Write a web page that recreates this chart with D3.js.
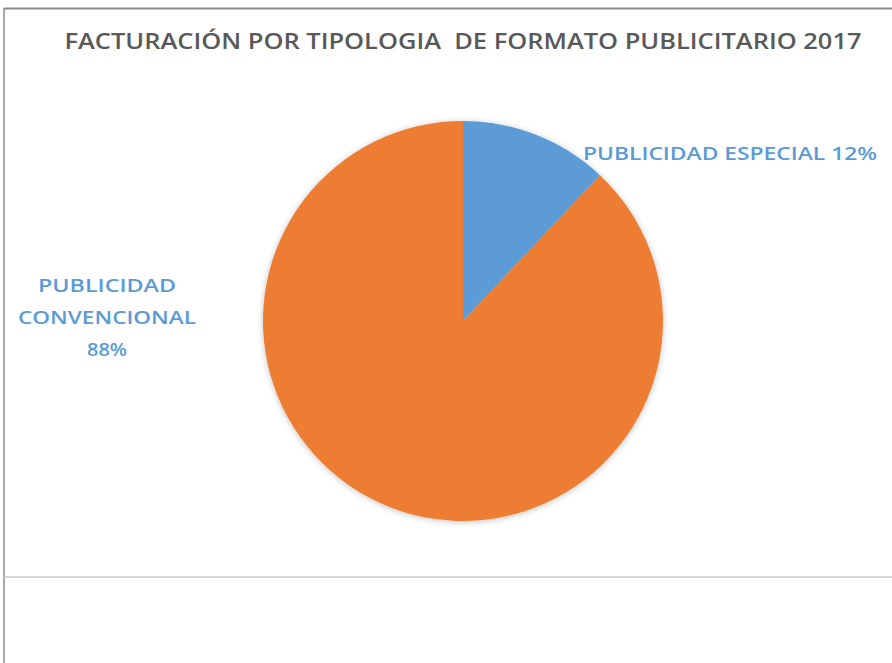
<!DOCTYPE html>
<html><head><meta charset="utf-8">
<script src="https://cdn.jsdelivr.net/npm/d3@7"></script>
<style>html,body{margin:0;padding:0;background:#fff;}svg{display:block;}</style>
</head><body>
<svg id="chart" width="892" height="663"></svg>
<script>
const title = "FACTURACIÓN POR TIPOLOGIA  DE FORMATO PUBLICITARIO 2017";
const categories = ["PUBLICIDAD ESPECIAL", "PUBLICIDAD CONVENCIONAL"];
const values = [12, 88];
const colors = ["#5B9BD5", "#ED7D31"];

const svg = d3.select("#chart");
const W = 892, H = 663;
const cx = 463, cy = 321, R = 200;

// frame lines
svg.append("line").attr("x1", 4).attr("x2", W).attr("y1", 8.5).attr("y2", 8.5)
  .attr("stroke", "#8c8c8c").attr("stroke-width", 2);
svg.append("line").attr("x1", 4).attr("x2", 4).attr("y1", 8).attr("y2", H)
  .attr("stroke", "#8c8c8c").attr("stroke-width", 1.5);
svg.append("line").attr("x1", 4).attr("x2", W).attr("y1", 577).attr("y2", 577)
  .attr("stroke", "#c8c8c8").attr("stroke-width", 1.5);

// title
svg.append("text").attr("x", 463).attr("y", 49).attr("text-anchor", "middle")
  .style("white-space", "pre")
  .attr("font-family", "'Open Sans', sans-serif").attr("font-size", 21)
  .attr("font-weight", 600).attr("fill", "#595959")
  .attr("textLength", 797).attr("lengthAdjust", "spacingAndGlyphs")
  .text(title);

// shadow filter
const defs = svg.append("defs");
const f = defs.append("filter").attr("id", "sh").attr("x", "-20%").attr("y", "-20%").attr("width", "140%").attr("height", "140%");
f.append("feGaussianBlur").attr("in", "SourceAlpha").attr("stdDeviation", 3).attr("result", "b");
f.append("feOffset").attr("in", "b").attr("dx", 0).attr("dy", 1).attr("result", "o");
f.append("feComponentTransfer").attr("in", "o").attr("result", "o2")
  .append("feFuncA").attr("type", "linear").attr("slope", 0.25);
const m = f.append("feMerge");
m.append("feMergeNode").attr("in", "o2");
m.append("feMergeNode").attr("in", "SourceGraphic");

const pie = d3.pie().sort(null).value(d => d)(values);
const arc = d3.arc().innerRadius(0).outerRadius(R);
const color = d3.scaleOrdinal().domain(categories).range(colors);

svg.append("g").attr("transform", `translate(${cx},${cy})`).attr("filter", "url(#sh)")
  .selectAll("path").data(pie).join("path")
  .attr("d", arc).attr("fill", (d, i) => color(categories[i]));

// labels
const lab = "#5B9BD5";
svg.append("text").attr("x", 583).attr("y", 160)
  .attr("font-family", "'Open Sans', sans-serif").attr("font-size", 18).attr("font-weight", 600)
  .attr("fill", lab).attr("textLength", 294).attr("lengthAdjust", "spacingAndGlyphs")
  .text(categories[0] + " " + values[0] + "%");

const convLines = ["PUBLICIDAD", "CONVENCIONAL", values[1] + "%"];
const lens = [138, 178, 40];
svg.append("g").selectAll("text").data(convLines).join("text")
  .attr("x", 107).attr("y", (d, i) => 292 + i * 32).attr("text-anchor", "middle")
  .attr("font-family", "'Open Sans', sans-serif").attr("font-size", 18).attr("font-weight", 600)
  .attr("fill", lab).attr("textLength", (d, i) => lens[i]).attr("lengthAdjust", "spacingAndGlyphs")
  .text(d => d);
</script>
</body></html>
